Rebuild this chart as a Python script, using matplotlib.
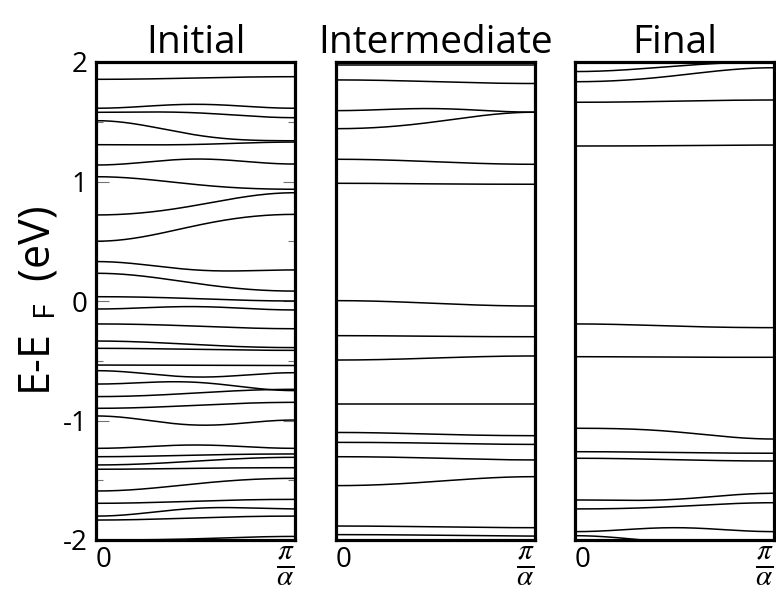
import numpy as np
import matplotlib
matplotlib.use("Agg")
import matplotlib.pyplot as plt

plt.rcParams['font.family'] = ['Open Sans', 'DejaVu Sans']
plt.rcParams['mathtext.fontset'] = 'custom'
plt.rcParams['mathtext.rm'] = 'Open Sans'
plt.rcParams['mathtext.it'] = 'STIXGeneral:italic'
plt.rcParams['mathtext.bf'] = 'Open Sans:bold'

titles = ["Initial", "Intermediate", "Final"]
k_read = [0.0, 0.5, 1.0]  # k/(pi/a) where energies were read

# energies (eV) at k = 0, pi/2a, pi/a for every band
initial_bands = [
    [1.855, 1.866, 1.877], [1.613, 1.646, 1.613], [1.579, 1.575, 1.534],
    [1.509, 1.390, 1.341], [1.308, 1.310, 1.330], [1.138, 1.188, 1.146],
    [1.040, 0.975, 0.935], [0.720, 0.800, 0.906], [0.500, 0.630, 0.725],
    [0.330, 0.260, 0.260], [0.232, 0.148, 0.083], [0.036, 0.020, 0.000],
    [-0.067, -0.047, -0.075], [-0.192, -0.210, -0.232], [-0.335, -0.365, -0.390],
    [-0.396, -0.405, -0.413], [-0.536, -0.538, -0.540], [-0.583, -0.636, -0.600],
    [-0.695, -0.680, -0.750], [-0.800, -0.770, -0.739], [-0.898, -0.873, -0.848],
    [-0.962, -1.038, -0.996], [-1.233, -1.205, -1.233], [-1.303, -1.290, -1.280],
    [-1.372, -1.340, -1.308], [-1.408, -1.400, -1.395], [-1.590, -1.530, -1.484],
    [-1.693, -1.675, -1.660], [-1.800, -1.735, -1.740], [-1.833, -1.815, -1.800],
    [-2.000, -1.990, -1.970],
]
intermediate_bands = [
    [1.975, 1.975, 1.975], [1.850, 1.835, 1.820], [1.593, 1.610, 1.580],
    [1.442, 1.500, 1.580], [1.186, 1.165, 1.144], [0.985, 0.980, 0.977],
    [0.003, -0.020, -0.042], [-0.290, -0.295, -0.299], [-0.494, -0.477, -0.460],
    [-0.865, -0.865, -0.865], [-1.100, -1.115, -1.127], [-1.183, -1.190, -1.200],
    [-1.303, -1.315, -1.330], [-1.545, -1.510, -1.470], [-1.883, -1.890, -1.897],
    [-1.955, -1.960, -1.967],
]
final_bands = [
    [1.920, 1.965, 2.000], [1.835, 1.885, 1.952], [1.663, 1.672, 1.682],
    [1.297, 1.300, 1.305], [-0.192, -0.210, -0.223], [-0.466, -0.470, -0.471],
    [-1.065, -1.094, -1.155], [-1.261, -1.268, -1.274], [-1.316, -1.328, -1.339],
    [-1.665, -1.660, -1.609], [-1.740, -1.720, -1.688], [-1.930, -1.897, -1.930],
    [-1.964, -2.020, -2.020],
]
all_bands = [initial_bands, intermediate_bands, final_bands]

ytick_major = [-2, -1, 0, 1, 2]
ytick_labels = ["-2", "-1", "0", "1", "2"]
xtick_labels = ["0", r"$\frac{\pi}{\alpha}$"]

W, H = 776, 594
fig = plt.figure(figsize=(W / 100, H / 100), dpi=100)
lefts = [96, 336, 575]
width_px = 199
top_px, bot_px = 62, 540

kf = np.linspace(0, 1, 200)

def smooth_band(e):
    e0, em, e1 = e
    b = (e0 - e1) / 2
    a = ((e0 + e1) / 2 + em) / 2
    c = ((e0 + e1) / 2 - em) / 2
    return a + b * np.cos(np.pi * kf) + c * np.cos(2 * np.pi * kf)

for i, (title, bands) in enumerate(zip(titles, all_bands)):
    ax = fig.add_axes([lefts[i] / W, 1 - bot_px / H, width_px / W, (bot_px - top_px) / H])
    for e in bands:
        ax.plot(kf, smooth_band(e), color='black', lw=1.1)
    ax.set_xlim(0, 1)
    ax.set_ylim(-2, 2)
    for s in ax.spines.values():
        s.set_linewidth(2.3)
    ax.set_title(title, fontsize=28, pad=4)
    ax.set_xticks([0, 1])
    ax.set_xticklabels(xtick_labels, fontsize=20)
    ax.tick_params(axis='x', length=0, pad=4)
    tl = ax.get_xticklabels()
    tl[0].set_ha('left')
    tl[1].set_ha('right')
    tl[1].set_fontsize(30)
    if i == 0:
        ax.set_yticks(ytick_major)
        ax.set_yticklabels(ytick_labels, fontsize=20)
        ax.set_yticks(np.arange(-1.5, 2.0, 1.0), minor=True)
        ax.tick_params(axis='y', which='major', direction='in', length=9, width=0.8,
                       color='0.45', right=True, pad=6)
        ax.tick_params(axis='y', which='minor', direction='in', length=5, width=0.8,
                       color='0.45', right=True)
        ax.set_ylabel(r"E-E$_{\ \ \mathrm{F}}$$\ \ $(eV)", fontsize=31, labelpad=2)
    else:
        ax.set_yticks([])

fig.savefig("out.png", dpi=100)
